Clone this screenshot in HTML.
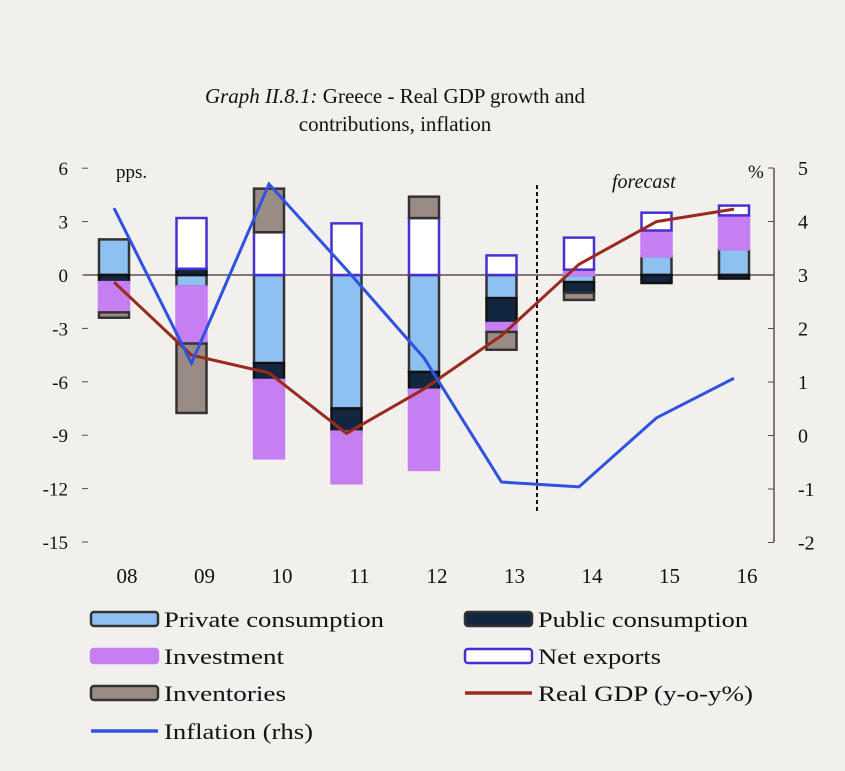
<!DOCTYPE html>
<html><head><meta charset="utf-8"><style>
body{margin:0;background:#f1f0ec;}
svg text{font-family:"Liberation Serif",serif;fill:#111;}
</style></head><body>
<svg width="845" height="766" id="c">
<rect width="845" height="766" fill="#f1f0ec"/>
<text x="395" y="103" text-anchor="middle" font-size="21"><tspan font-style="italic">Graph II.8.1:</tspan> Greece - Real GDP growth and</text>
<text x="395" y="131" text-anchor="middle" font-size="21">contributions, inflation</text>
<text x="116" y="178" font-size="19">pps.</text>
<text x="612" y="188" font-size="20" font-style="italic">forecast</text>
<text x="748" y="178" font-size="19">%</text>
<g id="g"></g>
</svg>
<script>
const years=["08","09","10","11","12","13","14","15","16"];
const privCons=[2.0,-0.65,-4.95,-7.5,-5.45,-1.3,-0.4,1.05,1.45];
const pubCons=[-0.4,0.35,-0.95,-1.3,-1.0,-1.4,-0.6,-0.45,-0.2];
const invest=[-1.7,-3.2,-4.4,-2.9,-4.5,-0.5,0.3,1.45,1.9];
const netExp=[0,2.85,2.4,2.9,3.2,1.1,1.8,1.0,0.55];
const invent=[-0.3,-3.9,2.45,0,1.2,-1.0,-0.4,0,0];
const gdp=[-0.4,-4.5,-5.5,-8.9,-6.4,-3.4,0.6,3.0,3.7];
const inflation=[4.25,1.35,4.7,3.1,1.45,-0.87,-0.96,0.33,1.07];
const leftTicks=[6,3,0,-3,-6,-9,-12,-15];
const rightTicks=[5,4,3,2,1,0,-1,-2];
const NS="http://www.w3.org/2000/svg";
const g=document.getElementById('g');
const yL=v=>275-v*17.8;
const yR=v=>275-(v-3)*53.5;
const xC=i=>114+i*77.5;
function el(t,a,p){const e=document.createElementNS(NS,t);for(const k in a)e.setAttribute(k,a[k]);(p||g).appendChild(e);return e;}
let ax=el('line',{x1:84,x2:774,y1:yL(0),y2:yL(0),stroke:'#5a5048','stroke-width':1.5});


let ra=el('line',{x1:774,x2:774,y1:yL(6),y2:yL(-15),stroke:'#5a5048','stroke-width':1.5});


leftTicks.forEach(v=>{
 el('line',{x1:82,x2:88,y1:yL(v),y2:yL(v),stroke:'#5a5048'});
 const t=el('text',{x:68,y:yL(v)+7,'text-anchor':'end','font-size':19});t.textContent=v;
 
 
});
rightTicks.forEach(v=>{
 el('line',{x1:768,x2:774,y1:yR(v),y2:yR(v),stroke:'#5a5048'});
 const t=el('text',{x:798,y:yR(v)+7,'font-size':20});t.textContent=v;
 
 
});
years.forEach((y,i)=>{
 const t=el('text',{x:xC(i)+13,y:583,'text-anchor':'middle','font-size':21});t.textContent=y;
 
 
});
const series=[[privCons,'#8fc0f2','#333','private-consumption'],[pubCons,'#13263f','#111','public-consumption'],[invest,'#c57ff2','#c57ff2','investment'],[netExp,'#ffffff','#4a2fd0','net-exports'],[invent,'#9a8c85','#333','inventories']];
years.forEach((y,i)=>{
 let pos=0,neg=0;
 series.forEach(([arr,f,s,n])=>{
  const v=arr[i];if(!v)return;
  let a,b;
  if(v>0){a=pos;b=pos+v;pos=b;}else{a=neg;b=neg+v;neg=b;}
  const r=el('rect',{x:xC(i)-15,width:30,y:Math.min(yL(a),yL(b)),height:Math.abs(yL(a)-yL(b)),fill:f,stroke:s,'stroke-width':2.5});
  
  
 });
});
let dl=el('line',{x1:537,x2:537,y1:185,y2:513,stroke:'#111','stroke-width':2,'stroke-dasharray':'4,3'});


let gl=el('polyline',{points:gdp.map((v,i)=>xC(i)+','+yL(v)).join(' '),fill:'none',stroke:'#9b2a1e','stroke-width':3});


let il=el('polyline',{points:inflation.map((v,i)=>xC(i)+','+yR(v)).join(' '),fill:'none',stroke:'#2f52e0','stroke-width':3});


const leg=[[91,619,'rect','#8fc0f2','#333','Private consumption',220],[465,619,'rect','#13263f','#333','Public consumption',210],[91,656,'rect','#c57ff2','#c57ff2','Investment',120],[465,656,'rect','#fff','#4a2fd0','Net exports',123],[91,693,'rect','#9a8c85','#333','Inventories',122],[465,693,'line','#9b2a1e','','Real GDP (y-o-y%)',215],[91,731,'line','#2f52e0','','Inflation (rhs)',149]];
leg.forEach(([x,y,k,f,s,txt,w])=>{
 let sw;
 if(k==='rect')sw=el('rect',{x:x,y:y-7,width:67,height:14,rx:3,fill:f,stroke:s,'stroke-width':2.5});
 else sw=el('line',{x1:x,x2:x+67,y1:y,y2:y,stroke:f,'stroke-width':3.5});
 
 
 const t=el('text',{x:x+73,y:y+8,'font-size':22,textLength:w,lengthAdjust:'spacingAndGlyphs'});t.textContent=txt;
 
 
});
</script>
</body></html>
